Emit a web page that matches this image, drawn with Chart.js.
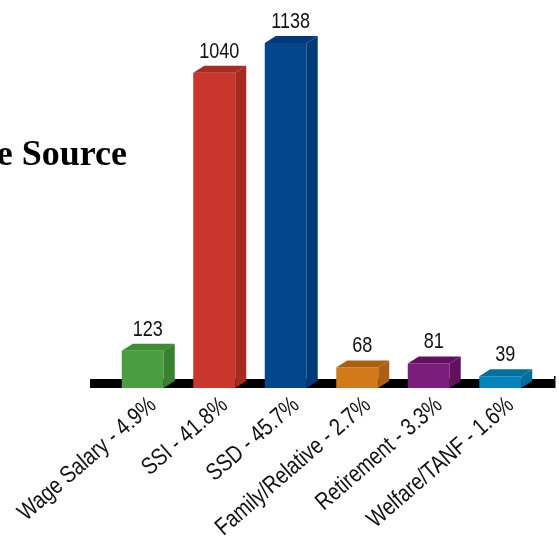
<!DOCTYPE html>
<html>
<head>
<meta charset="utf-8">
<script src="https://cdn.jsdelivr.net/npm/chart.js@4.4.0/dist/chart.umd.min.js"></script>
<style>
  html, body { margin: 0; padding: 0; background: #fff; }
</style>
</head>
<body>
<canvas id="incomeChart" width="559" height="537"></canvas>
<script>
// du lieu bieu do
const categories = ['Wage Salary - 4.9%', 'SSI - 41.8%', 'SSD - 45.7%', 'Family/Relative - 2.7%', 'Retirement - 3.3%', 'Welfare/TANF - 1.6%'];
const counts = [123, 1040, 1138, 68, 81, 39];

const frontColors = ['#4a9e3f', '#c9372c', '#03468b', '#d27a19', '#7b1e7b', '#0483bd'];
const topColors   = ['#3e8d34', '#a82a22', '#03397a', '#a96010', '#620f60', '#036f9f'];
const sideColors  = ['#368230', '#a72a21', '#023a76', '#a96012', '#62115f', '#036d9d'];

const depthX = 11;
const depthY = 7;
const narrow = 0.82; // khong co font Narrow -> nen chu theo chieu ngang
const tickAngle = 41 * Math.PI / 180;
const valueFont = '22px "Liberation Sans", sans-serif';
const tickFont = '24px "Liberation Sans", sans-serif';

// ve khoi 3D, nen den va nhan
const cubePlugin = {
    id: 'cube',
    beforeDatasetsDraw(chart) {
        const ctx = chart.ctx;
        const area = chart.chartArea;
        const y0 = chart.scales.y.getPixelForValue(0);
        ctx.save();
        ctx.fillStyle = '#000';
        ctx.fillRect(area.left - 17, y0 - 9, area.right - area.left + 36, 9);
        ctx.fillRect(area.right + 18, y0 - 12, 1.5, 12);
        ctx.restore();
    },
    afterDatasetsDraw(chart) {
        const ctx = chart.ctx;
        const meta = chart.getDatasetMeta(0);
        ctx.save();
        meta.data.forEach((bar, i) => {
            const p = bar.getProps(['x', 'y', 'base', 'width'], true);
            const l = p.x - p.width / 2;
            const r = p.x + p.width / 2;
            // mat tren
            ctx.fillStyle = topColors[i];
            ctx.beginPath();
            ctx.moveTo(l, p.y);
            ctx.lineTo(l + depthX, p.y - depthY);
            ctx.lineTo(r + depthX, p.y - depthY);
            ctx.lineTo(r, p.y);
            ctx.closePath();
            ctx.fill();
            // mat ben
            ctx.fillStyle = sideColors[i];
            ctx.beginPath();
            ctx.moveTo(r, p.y);
            ctx.lineTo(r + depthX, p.y - depthY);
            ctx.lineTo(r + depthX, p.base - depthY);
            ctx.lineTo(r, p.base);
            ctx.closePath();
            ctx.fill();
            // nhan gia tri
            ctx.save();
            ctx.fillStyle = '#111';
            ctx.font = valueFont;
            ctx.textAlign = 'center';
            ctx.textBaseline = 'alphabetic';
            ctx.translate(p.x + 5, p.y - depthY - 8);
            ctx.scale(narrow, 1);
            ctx.fillText(String(counts[i]), 0, 0);
            ctx.restore();
        });
        ctx.restore();
    },
    afterDraw(chart) {
        const ctx = chart.ctx;
        const xs = chart.scales.x;
        const y0 = chart.scales.y.getPixelForValue(0);
        ctx.save();
        // nhan truc x, xoay nghieng
        ctx.fillStyle = '#111';
        ctx.font = tickFont;
        ctx.textAlign = 'right';
        ctx.textBaseline = 'top';
        categories.forEach((lab, i) => {
            ctx.save();
            ctx.translate(xs.getPixelForValue(i) + 2.5, y0 + 5);
            ctx.rotate(-tickAngle);
            ctx.scale(narrow, 1);
            ctx.fillText(lab, 0, 0);
            ctx.restore();
        });
        // tieu de (bi cat ben trai)
        ctx.fillStyle = '#000';
        ctx.font = 'bold 36px "Liberation Serif", serif';
        ctx.textAlign = 'right';
        ctx.textBaseline = 'alphabetic';
        ctx.fillText('Income Source', 127, 165);
        ctx.restore();
    }
};

const ctx = document.getElementById('incomeChart').getContext('2d');

const incomeChart = new Chart(ctx, {
    type: 'bar',
    data: {
        labels: categories,
        datasets: [{
            data: counts,
            backgroundColor: frontColors,
            borderWidth: 0,
            barPercentage: 0.587,
            categoryPercentage: 1.0
        }]
    },
    options: {
        responsive: false,
        animation: false,
        layout: {
            padding: { left: 107, right: 23, top: 0, bottom: 0 }
        },
        plugins: {
            legend: { display: false },
            tooltip: { enabled: false }
        },
        scales: {
            y: {
                display: false,
                min: 0,
                max: 1280
            },
            x: {
                grid: { display: false },
                border: { display: false },
                ticks: { display: false, autoSkip: false },
                afterFit(scale) {
                    scale.height = 149;
                    scale.paddingLeft = 0;
                    scale.paddingRight = 0;
                }
            }
        }
    },
    plugins: [cubePlugin]
});
</script>
</body>
</html>
